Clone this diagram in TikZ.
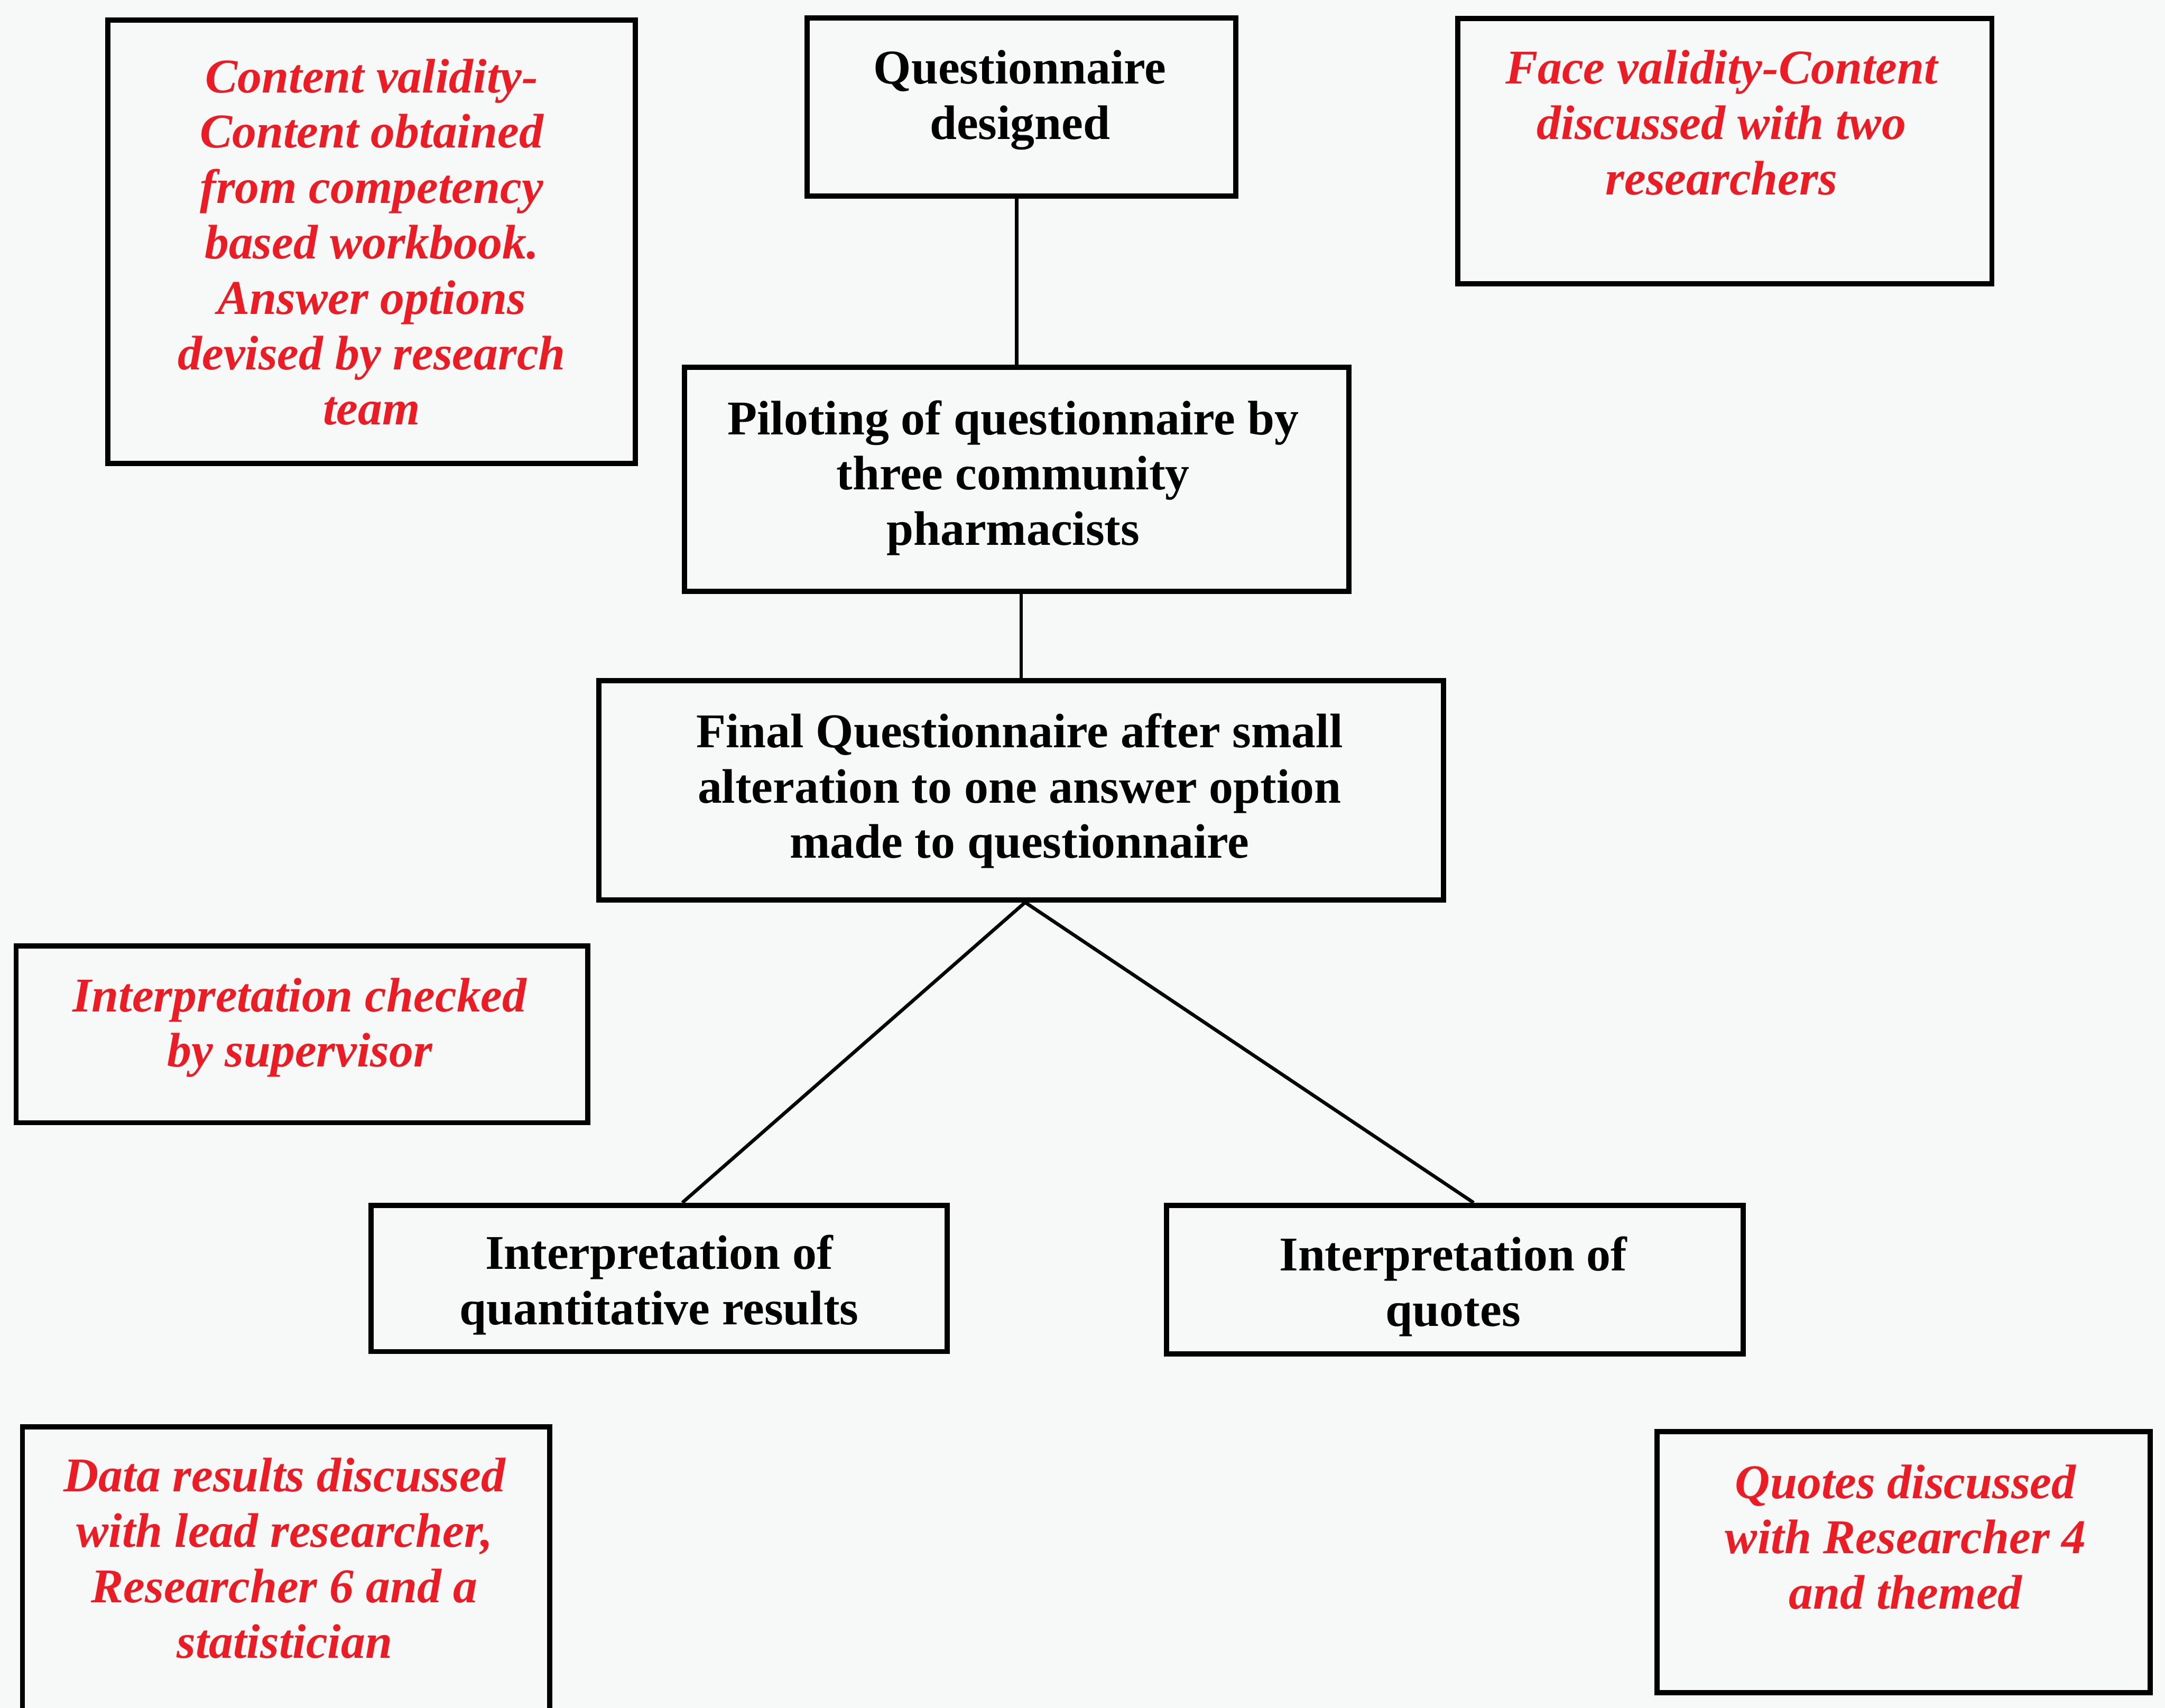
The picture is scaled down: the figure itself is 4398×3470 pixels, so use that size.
\documentclass[tikz,border=0pt]{standalone}
\usepackage{fontspec}
\setmainfont{Liberation Serif}
\usetikzlibrary{calc}
\definecolor{notered}{RGB}{236,28,36}
\definecolor{paper}{RGB}{247,249,248}
\begin{document}
\begin{tikzpicture}[x=0.01cm,y=-0.01cm,
  box/.style={draw=black, line width=3pt, rectangle, inner sep=0pt},
  link/.style={draw=black, line width=2pt},
  steptext/.style={align=center, inner sep=0pt, text=black,
    font=\bfseries\fontsize{28}{32}\selectfont},
  notetext/.style={align=center, inner sep=0pt, text=notered,
    font=\bfseries\itshape\fontsize{28}{32}\selectfont}]
\useasboundingbox (0,0) rectangle (4398,3470);
\clip (0,0) rectangle (4398,3470);
\fill[paper] (0,0) rectangle (4398,3470);

% frames
\node[box, minimum width=10.71cm, minimum height=9.00cm] (cv) at (754.5,491) {};
\node[box, minimum width=8.70cm,  minimum height=3.61cm] (qd) at (2075,217.5) {};
\node[box, minimum width=10.84cm, minimum height=5.38cm] (fv) at (3504,307) {};
\node[box, minimum width=13.49cm, minimum height=4.55cm] (pl) at (2065.5,973.5) {};
\node[box, minimum width=17.15cm, minimum height=4.45cm] (fq) at (2074.5,1605.5) {};
\node[box, minimum width=11.61cm, minimum height=3.59cm] (ic) at (613.5,2101.5) {};
\node[box, minimum width=11.70cm, minimum height=2.97cm] (qr) at (1339,2597.5) {};
\node[box, minimum width=11.71cm, minimum height=3.02cm] (qt) at (2955.5,2600) {};
\node[box, minimum width=10.70cm, minimum height=6.21cm] (dr) at (581,3209.5) {};
\node[box, minimum width=10.02cm, minimum height=5.30cm] (qs) at (3867,3174) {};

% texts
\node[notetext] (cvt) at (755,492) {Content validity-\\Content obtained\\from competency\\based workbook.\\Answer options\\devised by research\\team};
\node[steptext] (qdt) at (2072,203) {Questionnaire\\designed};
\node[notetext] (fvt) at (3497,249) {Face validity-Content\\discussed with two\\researchers};
\node[steptext] (plt) at (2058,971) {Piloting of questionnaire by\\three community\\pharmacists};
\node[steptext] (fqt) at (2071,1607) {Final Questionnaire after small\\alteration to one answer option\\made to questionnaire};
\node[notetext] (ict) at (609,2088) {Interpretation checked\\by supervisor};
\node[steptext] (qrt) at (1339,2611) {Interpretation of\\quantitative results};
\node[steptext] (qtt) at (2952,2614) {Interpretation of\\quotes};
\node[notetext] (drt) at (578,3166) {Data results discussed\\with lead researcher,\\Researcher 6 and a\\statistician};
\node[notetext] (qst) at (3871,3123) {Quotes discussed\\with Researcher 4\\and themed};

% connectors
\draw[link] (pl.north |- qd.south) -- (pl.north);
\draw[link] (fq.north |- pl.south) -- (fq.north);
\draw[link] ($(fq.south)+(8,0)$) -- ($(qr.north)+(47,0)$);
\draw[link] ($(fq.south)+(8,0)$) -- ($(qt.north)+(38,0)$);
\end{tikzpicture}
\end{document}
